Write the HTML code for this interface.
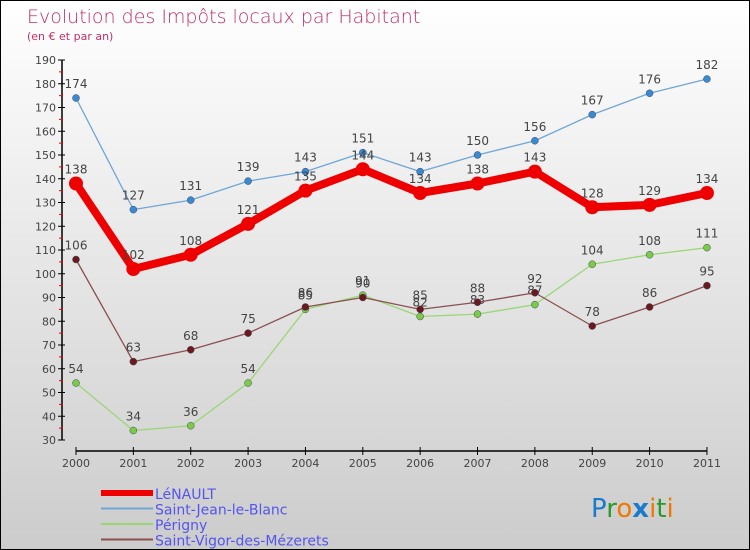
<!DOCTYPE html>
<html><head><meta charset="utf-8"><style>
body{margin:0;}
#c{width:748px;height:548px;border:1px solid #000;background:linear-gradient(#fff,#ccc);position:relative;font-family:"DejaVu Sans","Liberation Sans",sans-serif;overflow:hidden}
</style></head><body>
<div id="c">
<svg id="s" width="748" height="548" xmlns="http://www.w3.org/2000/svg">
<text x="26" y="22" font-size="19" fill="#c0306a" font-weight="200">Evolution des Impôts locaux par Habitant</text>
<text x="26" y="39" font-size="11" fill="#c0306a">(en € et par an)</text>
<g id="g"></g>
<text x="590" y="516" font-size="26" font-family="DejaVu Sans"><tspan fill="#1a7acc">P</tspan><tspan fill="#2a9a2a">r</tspan><tspan fill="#f07800">o</tspan><tspan fill="#1a7acc" font-weight="bold">x</tspan><tspan fill="#f07800">i</tspan><tspan fill="#2a9a2a">t</tspan><tspan fill="#f07800">i</tspan></text>
</svg></div>
<script>
const years=["2000","2001","2002","2003","2004","2005","2006","2007","2008","2009","2010","2011"];
const yTicks=[30,40,50,60,70,80,90,100,110,120,130,140,150,160,170,180,190];
const leNault=[138,102,108,121,135,144,134,138,143,128,129,134];
const saintJean=[174,127,131,139,143,151,143,150,156,167,176,182];
const perigny=[54,34,36,54,85,91,82,83,87,104,108,111];
const saintVigor=[106,63,68,75,86,90,85,88,92,78,86,95];
const NS="http://www.w3.org/2000/svg",g=document.getElementById('g');
const X=i=>75+i*57.36, Y=v=>59+(190-v)*2.375;
function mk(t,a,p){const e=document.createElementNS(NS,t);for(const k in a)e.setAttribute(k,a[k]);(p||g).appendChild(e);return e;}
// axes
let ya=mk('line',{x1:61,y1:Y(190),x2:61,y2:Y(30),stroke:'#000','stroke-width':1.5});


yTicks.forEach(v=>{
 mk('line',{x1:57,y1:Y(v),x2:64,y2:Y(v),stroke:'#000'});
 if(v<190)mk('line',{x1:58,y1:Y(v+5),x2:62,y2:Y(v+5),stroke:'#e00'});
 let t=mk('text',{x:55,y:Y(v)+4,'font-size':11,fill:'#444','text-anchor':'end'});t.textContent=v;
 
 
});
let xa=mk('line',{x1:X(0),y1:450,x2:X(11),y2:450,stroke:'#000','stroke-width':1.5});


years.forEach((y,i)=>{
 mk('line',{x1:X(i),y1:446,x2:X(i),y2:454,stroke:'#000'});
 let t=mk('text',{x:X(i),y:466,'font-size':11,fill:'#444','text-anchor':'middle'});t.textContent=y;
 
 
});
const series=[
 {n:'saint-jean-le-blanc',d:saintJean,c:'#6fa6d6',w:1.3,f:'#3a8ad0',r:3.5},
 {n:'perigny',d:perigny,c:'#9ad672',w:1.3,f:'#7acc44',r:3.5},
 {n:'saint-vigor',d:saintVigor,c:'#8a5050',w:1.3,f:'#6a1a1a',r:3.5},
 {n:'le-nault',d:leNault,c:'#ee0000',w:8,f:'#ee0000',r:7}];
series.forEach(s=>{
 let p=mk('polyline',{points:s.d.map((v,i)=>X(i)+','+Y(v)).join(' '),fill:'none',stroke:s.c,'stroke-width':s.w,'stroke-linejoin':'round'});
 
 
 s.d.forEach((v,i)=>{
  let c=mk('circle',{cx:X(i),cy:Y(v),r:s.r,fill:s.f,stroke:s.r>5?'none':'#446',"stroke-width":0.5});
  
  
  let t=mk('text',{x:X(i),y:Y(v)-10,'font-size':12,fill:'#444','text-anchor':'middle'});t.textContent=v;
  
  
 });
});
const leg=[['LéNAULT','#ee0000',6],['Saint-Jean-le-Blanc','#6fa6d6',2],['Périgny','#9ad672',2],['Saint-Vigor-des-Mézerets','#8a5050',2]];
leg.forEach((l,i)=>{
 let y=492+i*15.5;
 let ln=mk('line',{x1:100,y1:y,x2:152,y2:y,stroke:l[1],'stroke-width':l[2]});
 
 
 let t=mk('text',{x:154,y:y+6,'font-size':14,fill:'#5555ee'});t.textContent=l[0];
 
 
});
</script></body></html>
